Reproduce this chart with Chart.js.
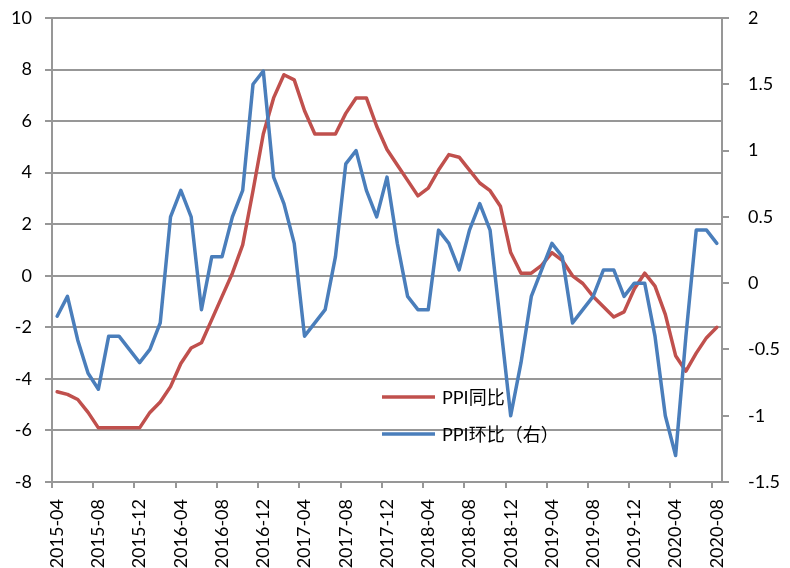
<!DOCTYPE html>
<html>
<head>
<meta charset="utf-8">
<script src="https://cdn.jsdelivr.net/npm/chart.js@4.4.1/dist/chart.umd.min.js"></script>
<style>
  html, body { margin: 0; padding: 0; background: #fff; }
  #wrap { width: 790px; height: 568px; }
</style>
</head>
<body>
<div id="wrap"><canvas id="ppiChart" width="790" height="568"></canvas></div>
<script>
// months 2015-04 .. 2020-08
const months = [
  '2015-04','2015-05','2015-06','2015-07','2015-08','2015-09','2015-10','2015-11','2015-12',
  '2016-01','2016-02','2016-03','2016-04','2016-05','2016-06','2016-07','2016-08','2016-09','2016-10','2016-11','2016-12',
  '2017-01','2017-02','2017-03','2017-04','2017-05','2017-06','2017-07','2017-08','2017-09','2017-10','2017-11','2017-12',
  '2018-01','2018-02','2018-03','2018-04','2018-05','2018-06','2018-07','2018-08','2018-09','2018-10','2018-11','2018-12',
  '2019-01','2019-02','2019-03','2019-04','2019-05','2019-06','2019-07','2019-08','2019-09','2019-10','2019-11','2019-12',
  '2020-01','2020-02','2020-03','2020-04','2020-05','2020-06','2020-07','2020-08'
];

// PPI 同比 (left axis)
const ppiYoY = [
  -4.5, -4.6, -4.8, -5.3, -5.9, -5.9, -5.9, -5.9, -5.9,
  -5.3, -4.9, -4.3, -3.4, -2.8, -2.6, -1.7, -0.8, 0.1, 1.2, 3.3, 5.5,
  6.9, 7.8, 7.6, 6.4, 5.5, 5.5, 5.5, 6.3, 6.9, 6.9, 5.8, 4.9,
  4.3, 3.7, 3.1, 3.4, 4.1, 4.7, 4.6, 4.1, 3.6, 3.3, 2.7, 0.9,
  0.1, 0.1, 0.4, 0.9, 0.6, 0.0, -0.3, -0.8, -1.2, -1.6, -1.4, -0.5,
  0.1, -0.4, -1.5, -3.1, -3.7, -3.0, -2.4, -2.0
];

// PPI 环比 (right axis)
const ppiMoM = [
  -0.25, -0.1, -0.43, -0.68, -0.8, -0.4, -0.4, -0.5, -0.6,
  -0.5, -0.3, 0.5, 0.7, 0.5, -0.2, 0.2, 0.2, 0.5, 0.7, 1.5, 1.6,
  0.8, 0.6, 0.3, -0.4, -0.3, -0.2, 0.2, 0.9, 1.0, 0.7, 0.5, 0.8,
  0.3, -0.1, -0.2, -0.2, 0.4, 0.3, 0.1, 0.4, 0.6, 0.4, -0.3, -1.0,
  -0.6, -0.1, 0.1, 0.3, 0.2, -0.3, -0.2, -0.1, 0.1, 0.1, -0.1, 0.0,
  0.0, -0.4, -1.0, -1.3, -0.4, 0.4, 0.4, 0.3
];

const leftTicks = { min: -8, max: 10, step: 2 };
const rightTicks = { min: -1.5, max: 2, step: 0.5 };

const RED = '#C0504D';
const BLUE = '#4A7EBB';
const GRID = '#979797';
const FONT = "Lato, 'Noto Sans CJK SC', sans-serif";

// legend drawn inside the plot, like the Excel original
const innerLegend = {
  id: 'innerLegend',
  afterDraw(chart) {
    const ctx = chart.ctx;
    const rows = [
      { ds: chart.data.datasets[0], y: 397 },
      { ds: chart.data.datasets[1], y: 434 }
    ];
    ctx.save();
    rows.forEach(r => {
      ctx.strokeStyle = r.ds.borderColor;
      ctx.lineWidth = 3.5;
      ctx.beginPath();
      ctx.moveTo(382, r.y);
      ctx.lineTo(435, r.y);
      ctx.stroke();
      ctx.fillStyle = '#000';
      ctx.font = '18px ' + FONT;
      ctx.textBaseline = 'middle';
      ctx.fillText(r.ds.label, 442, r.y + 1);
    });
    ctx.restore();
  }
};

// fixed axis sizes, and no extra label padding pushing the plot down
function fixY(width) {
  return s => {
    s.width = width;
    s.paddingTop = 0;
    s.paddingBottom = 0;
  };
}

function initChart() {
  const ctx = document.getElementById('ppiChart').getContext('2d');
  new Chart(ctx, {
    type: 'line',
    data: {
      labels: months,
      datasets: [
        { label: 'PPI同比', data: ppiYoY, borderColor: RED, yAxisID: 'L', order: 1 },
        { label: 'PPI环比（右）', data: ppiMoM, borderColor: BLUE, yAxisID: 'R', order: 0 }
      ]
    },
    options: {
      responsive: false,
      devicePixelRatio: 1,
      animation: false,
      layout: { padding: { top: 18, left: 0, right: 0, bottom: 0 } },
      elements: {
        point: { radius: 0 },
        line: { borderWidth: 3.5, tension: 0, borderJoinStyle: 'round', borderCapStyle: 'round' }
      },
      scales: {
        x: {
          type: 'category',
          offset: true,
          grid: {
            offset: true,
            drawOnChartArea: false,
            drawTicks: true,
            tickLength: 6,
            lineWidth: 2,
            color: c => (c.index !== undefined && c.index % 4 === 0) ? GRID : 'rgba(0,0,0,0)'
          },
          border: { display: true, color: GRID, width: 2 },
          ticks: {
            autoSkip: false,
            minRotation: 90,
            maxRotation: 90,
            padding: 11,
            color: '#000',
            font: { family: FONT, size: 18 },
            callback: function (v, i) { return i % 4 === 0 ? this.getLabelForValue(v) : ''; }
          },
          afterFit: s => { s.height = 86; s.paddingLeft = 0; s.paddingRight = 0; }
        },
        L: {
          type: 'linear',
          position: 'left',
          min: leftTicks.min,
          max: leftTicks.max,
          ticks: {
            stepSize: leftTicks.step,
            padding: 13,
            color: '#000',
            font: { family: FONT, size: 18 },
            callback: v => String(v)
          },
          grid: { color: GRID, lineWidth: 2, drawTicks: true, tickLength: 7 },
          border: { display: true, color: GRID, width: 2 },
          afterFit: fixY(52)
        },
        R: {
          type: 'linear',
          position: 'right',
          min: rightTicks.min,
          max: rightTicks.max,
          ticks: {
            stepSize: rightTicks.step,
            padding: 19,
            color: '#000',
            font: { family: FONT, size: 18 },
            callback: v => String(v)
          },
          grid: { drawOnChartArea: false, color: GRID, lineWidth: 2, drawTicks: true, tickLength: 7 },
          border: { display: true, color: GRID, width: 2 },
          afterFit: fixY(68)
        }
      },
      plugins: {
        legend: { display: false },
        tooltip: { enabled: false }
      }
    },
    plugins: [innerLegend]
  });
}

document.addEventListener('DOMContentLoaded', initChart);
</script>
</body>
</html>
